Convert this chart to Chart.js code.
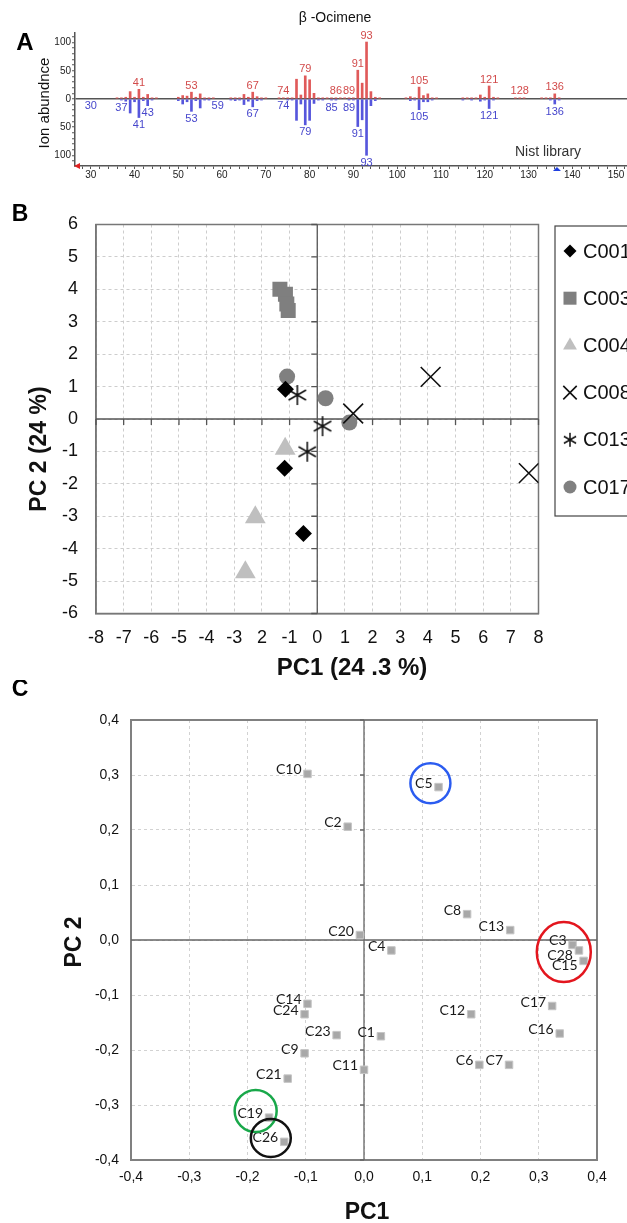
<!DOCTYPE html>
<html>
<head>
<meta charset="utf-8">
<script src="https://cdn.jsdelivr.net/npm/chart.js@4.4.0/dist/chart.umd.min.js"></script>
<style>
  html, body { margin: 0; padding: 0; background: #fff; }
  body { width: 627px; height: 1223px; position: relative; overflow: hidden; }
  canvas { position: absolute; left: 0; }
</style>
</head>
<body>
<canvas id="msChart" width="627" height="185" style="top:0"></canvas>
<canvas id="pcaChart" width="627" height="495" style="top:185px"></canvas>
<canvas id="loadChart" width="627" height="543" style="top:680px"></canvas>
<script>
// ---- A: mass spectrum of beta-ocimene, sample (up) vs NIST library (down)
const sampleMz    = [36,37,38,39,40,41,42,43,44,45, 50,51,52,53,54,55,56,57,58, 62,63,64,65,66,67,68,69,70,
                     73,74,75,76,77,78,79,80,81,82,83, 84,85,86,87,88,89,90,91,92,93,94,95,96,
                     102,103,104,105,106,107,108,109, 115,116,117,118,119,120,121,122,123, 127,128,129,133,134,135,136,137];
const sampleAbund = [2,2,3,13,3,17,3,8,2,2, 3,6,5,12,3,9,2,2,2, 2,2,2,8,3,12,4,2,2,
                     2,2,2,2,35,7,41,34,10,2,2, 2,2,2,2,2,2,2,51,28,101,13,3,2,
                     2,4,2,21,6,9,2,2, 2,2,2,2,7,3,23,3,2, 2,2,2,2,2,2,9,2];
const libraryMz    = [37,38,39,40,41,42,43,44, 50,51,52,53,54,55,56,57, 62,63,64,65,66,67,68,69,
                      75,76,77,78,79,80,81,82,83, 85,86,89,90,91,92,93,94,95,
                      103,104,105,106,107,108, 115,117,119,120,121,122, 135,136,137];
const libraryAbund = [2,4,25,5,33,3,12,2, 3,9,5,22,3,16,2,2, 2,3,2,10,4,14,3,2,
                      2,2,38,9,46,38,8,2,2, 2,2,2,2,49,37,100,12,3,
                      3,2,19,5,5,2, 2,2,4,2,17,2, 2,9,2];
const sampleLabelMz  = [41,53,67,74,79,86,89,91,93,105,121,128,136];
const libraryLabelMz = [30,37,41,43,53,59,67,74,79,85,89,91,93,105,121,136];

// ---- B: PCA scores
const groupNames = ['C001','C003','C004','C008','C013','C017'];
const c001 = [[-1.15, 0.92], [-1.18, -1.52], [-0.5, -3.53]];
const c003 = [[-1.35, 4.0], [-1.15, 3.85], [-1.1, 3.55], [-1.05, 3.35]];
const c004 = [[-1.16, -0.92], [-2.24, -3.03], [-2.6, -4.73]];
const c008 = [[4.1, 1.3], [1.3, 0.17], [7.65, -1.67]];
const c013 = [[-0.72, 0.74], [0.19, -0.22], [-0.36, -1.01]];
const c017 = [[-1.09, 1.31], [0.3, 0.64], [1.16, -0.11]];
const pc1TickLabels = ['-8','-7','-6','-5','-4','-3','2','-1','0','1','2','3','4','5','6','7','8'];

// ---- C: loadings
const cultivars = ['C1','C2','C3','C4','C5','C6','C7','C8','C9','C10','C11','C12','C13','C14',
                   'C15','C16','C17','C19','C20','C21','C23','C24','C26','C28'];
const loadPC1 = [0.029,-0.028,0.358,0.047,0.128,0.198,0.249,0.177,-0.102,-0.097,0.0,0.184,0.251,-0.097,
                 0.377,0.336,0.323,-0.163,-0.007,-0.131,-0.047,-0.102,-0.137,0.369];
const loadPC2 = [-0.175,0.206,-0.009,-0.019,0.278,-0.227,-0.227,0.047,-0.206,0.302,-0.236,-0.135,0.018,-0.116,
                 -0.038,-0.170,-0.120,-0.323,0.009,-0.252,-0.173,-0.135,-0.367,-0.019];
const labelsBelow = ['C28','C15'];

const RED = '#e05a5a', RED_TXT = '#d24b4b';
const BLUE = '#5656dc', BLUE_TXT = '#4646cc';
const SANS = '"Liberation Sans", Arial, sans-serif';
Chart.defaults.font.family = SANS;
Chart.defaults.color = '#111';

function fixArea(opts, cw, ch, a) {
  opts.layout = { padding: { left: 0, top: a.top, right: cw - a.right, bottom: 0 } };
  opts.scales.y.afterFit = s => { s.width = a.left; };
  opts.scales.x.afterFit = s => { s.height = ch - a.bottom; };
  return opts;
}

function text(ctx, str, x, y, font, color, align, rot) {
  ctx.save();
  ctx.font = font;
  ctx.fillStyle = color;
  ctx.textAlign = align || 'center';
  ctx.textBaseline = 'middle';
  ctx.translate(x, y);
  if (rot) ctx.rotate(rot);
  ctx.fillText(str, 0, 0);
  ctx.restore();
}

// ================= A =================
const msDecor = {
  id: 'msDecor',
  afterDatasetsDraw(chart) {
    const { ctx, scales: { x, y } } = chart;
    ctx.save();
    ctx.font = '11px ' + SANS;
    ctx.textAlign = 'center';
    ctx.fillStyle = RED_TXT;
    ctx.textBaseline = 'bottom';
    sampleLabelMz.forEach(m => {
      const i = sampleMz.indexOf(m);
      const v = i >= 0 ? sampleAbund[i] : 0;
      ctx.fillText(String(m), x.getPixelForValue(m), y.getPixelForValue(v) - 1);
    });
    ctx.fillStyle = BLUE_TXT;
    ctx.textBaseline = 'top';
    libraryLabelMz.forEach(m => {
      const i = libraryMz.indexOf(m);
      const v = i >= 0 ? libraryAbund[i] : 0;
      ctx.fillText(String(m), x.getPixelForValue(m), y.getPixelForValue(-v) + 2);
    });
    // axis markers
    const a = chart.chartArea;
    ctx.fillStyle = '#e02020';
    ctx.beginPath();
    ctx.moveTo(a.left - 1, a.bottom);
    ctx.lineTo(a.left + 5, a.bottom - 3);
    ctx.lineTo(a.left + 5, a.bottom + 3);
    ctx.fill();
    const mx = x.getPixelForValue(136.5);
    ctx.fillStyle = '#2040e0';
    ctx.beginPath();
    ctx.moveTo(mx, a.bottom + 1);
    ctx.lineTo(mx - 4, a.bottom + 5);
    ctx.lineTo(mx + 4, a.bottom + 5);
    ctx.fill();
    ctx.restore();
  },
  afterDraw(chart) {
    const ctx = chart.ctx;
    text(ctx, 'A', 25, 43, 'bold 24px ' + SANS, '#000');
    text(ctx, 'β -Ocimene', 335, 18, '14px ' + SANS, '#111');
    text(ctx, 'Ion abundnce', 45, 103, '15px ' + SANS, '#111', 'center', -Math.PI / 2);
    text(ctx, 'Nist library', 548, 152, '14px ' + SANS, '#333');
  }
};

new Chart(document.getElementById('msChart'), {
  type: 'bar',
  data: {
    datasets: [
      {
        label: 'Sample',
        data: sampleMz.map((m, i) => ({ x: m, y: sampleAbund[i] })),
        backgroundColor: RED,
        barThickness: 2,
        grouped: false
      },
      {
        label: 'Nist library',
        data: libraryMz.map((m, i) => ({ x: m, y: -libraryAbund[i] })),
        backgroundColor: BLUE,
        barThickness: 2,
        grouped: false
      }
    ]
  },
  options: fixArea({
    responsive: false,
    animation: false,
    events: [],
    plugins: { legend: { display: false }, tooltip: { enabled: false } },
    scales: {
      x: {
        type: 'linear', min: 26.4, max: 152.5, offset: false,
        grid: { offset: false, drawOnChartArea: false, tickLength: 3, tickColor: '#555', tickWidth: 1 },
        border: { color: '#555', width: 1.5 },
        ticks: {
          stepSize: 2, includeBounds: false, autoSkip: false, maxRotation: 0, padding: 0,
          color: '#222', font: { size: 10 },
          callback: v => (v % 10 === 0 ? v : '')
        }
      },
      y: {
        min: -119, max: 117,
        grid: {
          color: c => (c.tick && c.tick.value === 0 ? '#555' : 'rgba(0,0,0,0)'),
          lineWidth: 1.5, tickLength: 3, tickColor: '#555', tickWidth: 1
        },
        border: { color: '#555', width: 1.5 },
        ticks: {
          stepSize: 10, includeBounds: false, autoSkip: false, padding: 1,
          color: '#222', font: { size: 10 },
          callback: v => (v % 50 === 0 ? Math.abs(v) : '')
        }
      }
    }
  }, 627, 185, { left: 75, right: 627, top: 33, bottom: 166 }),
  plugins: [msDecor]
});

// ================= B =================
function makeAsterisk(size, r, lw) {
  const c = document.createElement('canvas');
  c.width = c.height = size;
  const g = c.getContext('2d');
  const m = size / 2, d = r * 0.87;
  g.strokeStyle = '#111';
  g.lineWidth = lw;
  g.beginPath();
  g.moveTo(m, m - r); g.lineTo(m, m + r);
  g.moveTo(m - d, m - r / 2); g.lineTo(m + d, m + r / 2);
  g.moveTo(m - d, m + r / 2); g.lineTo(m + d, m - r / 2);
  g.stroke();
  return c;
}

const groupPoints = [c001, c003, c004, c008, c013, c017];
const groupStyles = [
  { pointStyle: 'rectRot', radius: 8.5, legendRadius: 6.5, bg: '#000', border: '#000', bw: 0 },
  { pointStyle: 'rect', radius: 10.6, legendRadius: 9.2, bg: '#7f7f7f', border: '#7f7f7f', bw: 0 },
  { pointStyle: 'triangle', radius: 12, legendRadius: 8, bg: '#bfbfbf', border: '#bfbfbf', bw: 0 },
  { pointStyle: 'crossRot', radius: 14, legendRadius: 9.5, bg: '#111', border: '#111', bw: 1.6 },
  { pointStyle: makeAsterisk(22, 10, 1.6), legendStyle: makeAsterisk(16, 7, 1.5), radius: 10, legendRadius: 7, bg: '#111', border: '#111', bw: 0 },
  { pointStyle: 'circle', radius: 8, legendRadius: 6.5, bg: '#808080', border: '#808080', bw: 0 }
];

const pcaDecor = {
  id: 'pcaDecor',
  beforeDatasetsDraw(chart) {
    const { ctx, chartArea: a, scales: { x, y } } = chart;
    const x0 = x.getPixelForValue(0), y0 = y.getPixelForValue(0);
    ctx.save();
    ctx.strokeStyle = '#777';
    ctx.lineWidth = 1.5;
    ctx.strokeRect(a.left, a.top, a.right - a.left, a.bottom - a.top);
    ctx.strokeStyle = '#555';
    ctx.lineWidth = 1.3;
    ctx.beginPath();
    ctx.moveTo(x0, a.top); ctx.lineTo(x0, a.bottom);
    ctx.moveTo(a.left, y0); ctx.lineTo(a.right, y0);
    y.ticks.forEach(t => { const p = y.getPixelForValue(t.value); ctx.moveTo(x0 - 6, p); ctx.lineTo(x0, p); });
    x.ticks.forEach(t => { const p = x.getPixelForValue(t.value); ctx.moveTo(p, y0); ctx.lineTo(p, y0 + 6); });
    ctx.stroke();
    ctx.restore();
  },
  afterDraw(chart) {
    const { ctx, chartArea: a } = chart;
    const left = a.right + 16.5, top = a.top + 1.5;
    ctx.save();
    ctx.strokeStyle = '#444';
    ctx.lineWidth = 1.2;
    ctx.strokeRect(left, top, 200, 290);
    chart.data.datasets.forEach((ds, i) => {
      const cy = top + 25 + i * 47.2;
      ctx.fillStyle = ds.backgroundColor;
      ctx.strokeStyle = ds.borderColor;
      ctx.lineWidth = ds.borderWidth;
      Chart.helpers.drawPoint(ctx, {
        pointStyle: ds.legendStyle || ds.pointStyle, radius: ds.legendRadius,
        borderWidth: ds.borderWidth, rotation: 0
      }, left + 15, cy);
      text(ctx, ds.label, left + 28, cy + 1, '20px ' + SANS, '#111', 'left');
    });
    ctx.restore();
    text(ctx, 'B', 20, 30, 'bold 23px ' + SANS, '#000');
    text(ctx, 'PC 2 (24 %)', 40, 264, 'bold 23px ' + SANS, '#111', 'center', -Math.PI / 2);
    text(ctx, 'PC1 (24 .3 %)', 352, 483, 'bold 24px ' + SANS, '#111');
  }
};

new Chart(document.getElementById('pcaChart'), {
  type: 'scatter',
  data: {
    datasets: groupNames.map((name, i) => ({
      label: name,
      data: groupPoints[i].map(([px, py]) => ({ x: px, y: py })),
      pointStyle: groupStyles[i].pointStyle,
      legendStyle: groupStyles[i].legendStyle,
      pointRadius: groupStyles[i].radius,
      legendRadius: groupStyles[i].legendRadius,
      backgroundColor: groupStyles[i].bg,
      borderColor: groupStyles[i].border,
      borderWidth: groupStyles[i].bw
    }))
  },
  options: fixArea({
    responsive: false,
    animation: false,
    events: [],
    plugins: { legend: { display: false }, tooltip: { enabled: false } },
    scales: {
      x: {
        type: 'linear', min: -8, max: 8,
        grid: { color: '#cdcdcd', lineWidth: 1, drawTicks: false },
        border: { color: '#777', width: 1.5, dash: [3, 3] },
        ticks: {
          stepSize: 1, autoSkip: false, maxRotation: 0, padding: 14,
          font: { size: 18 }, color: '#111',
          callback: (v, i) => pc1TickLabels[i]
        }
      },
      y: {
        type: 'linear', min: -6, max: 6,
        grid: { color: '#cdcdcd', lineWidth: 1, drawTicks: false },
        border: { color: '#777', width: 1.5, dash: [3, 3] },
        ticks: { stepSize: 1, autoSkip: false, padding: 18, font: { size: 18 }, color: '#111' }
      }
    }
  }, 627, 495, { left: 96, right: 538.5, top: 39.5, bottom: 428.5 }),
  plugins: [pcaDecor]
});

// ================= C =================
const rings = [
  { x: 0.114, y: 0.285, rx: 20, ry: 20, color: '#2b5cf0' },
  { x: 0.343, y: -0.022, rx: 27, ry: 30, color: '#e3161e' },
  { x: -0.186, y: -0.311, rx: 21, ry: 21, color: '#19a84a' },
  { x: -0.16, y: -0.36, rx: 20, ry: 19, color: '#111' }
];

const loadDecor = {
  id: 'loadDecor',
  beforeDatasetsDraw(chart) {
    const { ctx, chartArea: a, scales: { x, y } } = chart;
    const x0 = x.getPixelForValue(0), y0 = y.getPixelForValue(0);
    ctx.save();
    ctx.strokeStyle = '#808080';
    ctx.lineWidth = 2;
    ctx.strokeRect(a.left, a.top, a.right - a.left, a.bottom - a.top);
    ctx.strokeStyle = '#666';
    ctx.lineWidth = 1.3;
    ctx.beginPath();
    ctx.moveTo(x0, a.top); ctx.lineTo(x0, a.bottom);
    ctx.moveTo(a.left, y0); ctx.lineTo(a.right, y0);
    y.ticks.forEach(t => { const p = y.getPixelForValue(t.value); ctx.moveTo(x0 - 4, p); ctx.lineTo(x0, p); });
    ctx.stroke();
    ctx.restore();
  },
  afterDatasetsDraw(chart) {
    const { ctx, scales: { x, y } } = chart;
    ctx.save();
    ctx.font = '14px Lato, "Noto Sans", sans-serif';
    ctx.fillStyle = '#1a1a1a';
    ctx.textAlign = 'right';
    ctx.textBaseline = 'middle';
    cultivars.forEach((name, i) => {
      const px = x.getPixelForValue(loadPC1[i]), py = y.getPixelForValue(loadPC2[i]);
      const dy = labelsBelow.includes(name) ? 5 : -4;
      ctx.fillText(name, px - 6, py + dy);
    });
    ctx.lineWidth = 2.5;
    rings.forEach(r => {
      ctx.strokeStyle = r.color;
      ctx.beginPath();
      ctx.ellipse(x.getPixelForValue(r.x), y.getPixelForValue(r.y), r.rx, r.ry, 0, 0, Math.PI * 2);
      ctx.stroke();
    });
    ctx.restore();
  },
  afterDraw(chart) {
    const ctx = chart.ctx;
    text(ctx, 'C', 20, 10, 'bold 23px ' + SANS, '#000');
    text(ctx, 'PC 2', 75, 262, 'bold 23px ' + SANS, '#111', 'center', -Math.PI / 2);
    text(ctx, 'PC1', 367, 533, 'bold 23px ' + SANS, '#111');
  }
};

const commaFmt = v => v.toFixed(1).replace('.', ',');

new Chart(document.getElementById('loadChart'), {
  type: 'scatter',
  data: {
    datasets: [{
      label: 'Loadings',
      data: cultivars.map((c, i) => ({ x: loadPC1[i], y: loadPC2[i] })),
      pointStyle: 'rect',
      pointRadius: 5.3,
      backgroundColor: '#a8a8a8',
      borderColor: '#c6c6c6',
      borderWidth: 1
    }]
  },
  options: fixArea({
    responsive: false,
    animation: false,
    events: [],
    plugins: { legend: { display: false }, tooltip: { enabled: false } },
    scales: {
      x: {
        type: 'linear', min: -0.4, max: 0.4,
        grid: { color: '#d2d2d2', lineWidth: 1, drawTicks: false },
        border: { color: '#808080', width: 2, dash: [3, 3] },
        ticks: { stepSize: 0.1, autoSkip: false, maxRotation: 0, padding: 9, font: { size: 14 }, color: '#111', callback: commaFmt }
      },
      y: {
        type: 'linear', min: -0.4, max: 0.4,
        grid: { color: '#d2d2d2', lineWidth: 1, drawTicks: false },
        border: { color: '#808080', width: 2, dash: [3, 3] },
        ticks: { stepSize: 0.1, autoSkip: false, padding: 12, font: { size: 14 }, color: '#111', callback: commaFmt }
      }
    }
  }, 627, 543, { left: 131, right: 597, top: 40, bottom: 480 }),
  plugins: [loadDecor]
});
</script>
</body>
</html>
